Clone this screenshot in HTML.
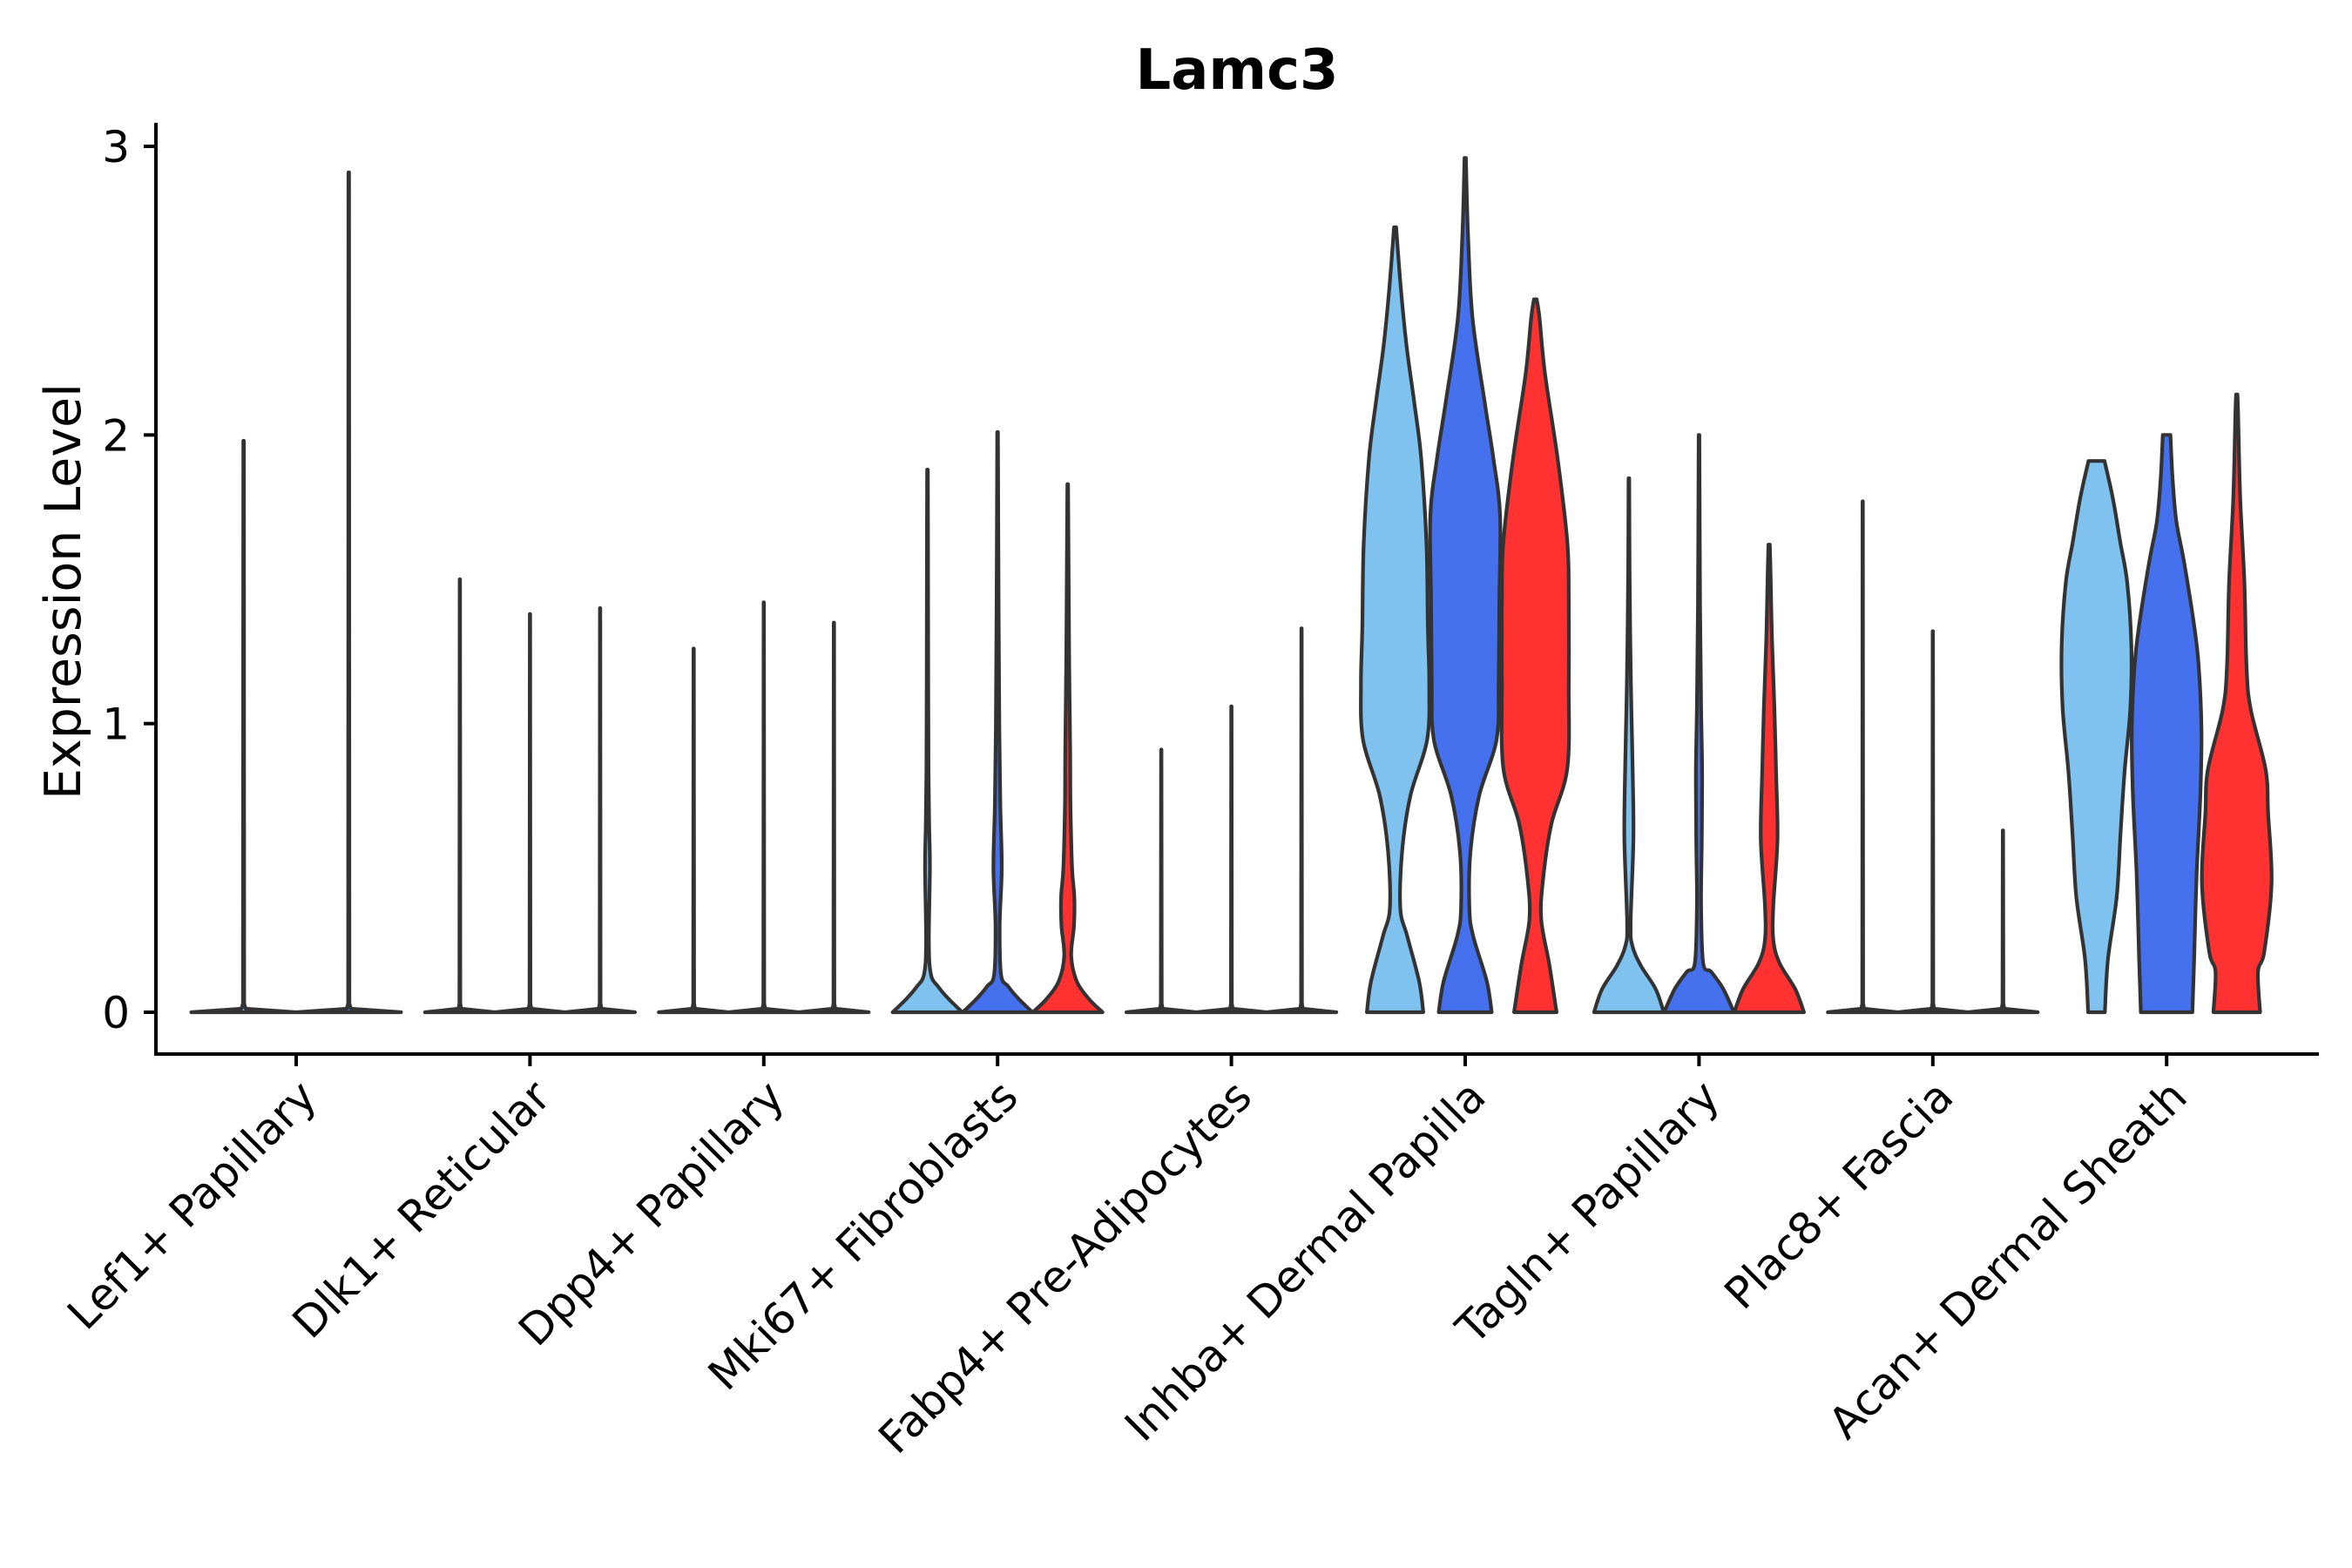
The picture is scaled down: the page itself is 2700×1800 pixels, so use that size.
<!DOCTYPE html>
<html><head><meta charset="utf-8"><title>Lamc3</title>
<style>
html,body{margin:0;padding:0;background:#fff;}
svg{display:block;font-family:"DejaVu Sans","Liberation Sans",sans-serif;}
</style></head>
<body>
<svg id="chart" width="2700" height="1800" viewBox="0 0 2700 1800" xmlns="http://www.w3.org/2000/svg">
<rect x="0" y="0" width="2700" height="1800" fill="#fff"/>
<text x="1420" y="102" text-anchor="middle" font-size="64" font-weight="bold" fill="#000">Lamc3</text>
<text transform="translate(92,679) rotate(-90)" text-anchor="middle" font-size="57" fill="#000">Expression Level</text>
<g id="violins"></g>
<g id="axes"></g>
</svg>
<script>
const categories = ["Lef1+ Papillary","Dlk1+ Reticular","Dpp4+ Papillary","Mki67+ Fibroblasts","Fabp4+ Pre-Adipocytes","Inhba+ Dermal Papilla","Tagln+ Papillary","Plac8+ Fascia","Acan+ Dermal Sheath"];
const yTicks = [0,1,2,3];
const yTickLabels = ["0","1","2","3"];
const seriesColors = ["#7fc1ef","#4570ee","#ff3131"];

// max values of near-zero (flat) violins
const lef1Max = [1.98, 2.91];
const dlk1Max = [1.50, 1.38, 1.40];
const dpp4Max = [1.26, 1.42, 1.35];
const fabp4Max = [0.91, 1.06, 1.33];
const plac8Max = [1.77, 1.32, 0.63];

// density profiles: [value, relative half-width]
const mki67Light = [[0,1],[0.047,0.6],[0.088,0.31],[0.13,0.1],[0.24,0.04],[0.5,0.07],[0.64,0.05],[0.84,0.03],[1.25,0.02],[1.65,0.015],[1.88,0.01]];
const mki67Blue = [[0,1],[0.047,0.6],[0.09,0.3],[0.13,0.1],[0.3,0.06],[0.5,0.12],[0.71,0.08],[0.98,0.05],[1.38,0.03],[2.01,0.01]];
const mki67Red = [[0,1],[0.047,0.6],[0.11,0.25],[0.196,0.1],[0.3,0.18],[0.4,0.19],[0.5,0.125],[0.71,0.08],[0.91,0.07],[1.25,0.04],[1.64,0.02],[1.83,0.01]];
const inhbaLight = [[0,0.81],[0.107,0.69],[0.263,0.35],[0.36,0.15],[0.555,0.2],[0.75,0.44],[0.944,0.92],[1.139,0.98],[1.334,0.94],[1.626,0.9],[1.918,0.75],[2.113,0.55],[2.308,0.33],[2.502,0.17],[2.72,0.03]];
const inhbaBlue = [[0,0.76],[0.107,0.62],[0.263,0.23],[0.36,0.12],[0.555,0.15],[0.75,0.4],[0.944,0.9],[1.139,0.96],[1.431,0.98],[1.723,1.0],[1.918,0.81],[2.113,0.56],[2.405,0.21],[2.697,0.08],[2.96,0.02]];
const inhbaRed = [[0,0.61],[0.166,0.4],[0.321,0.17],[0.458,0.22],[0.652,0.46],[0.847,0.92],[1.139,0.96],[1.431,0.96],[1.626,0.92],[1.918,0.64],[2.21,0.28],[2.405,0.12],[2.47,0.04]];
const taglnLight = [[0,1],[0.08,0.77],[0.16,0.35],[0.23,0.1],[0.31,0.05],[0.6,0.13],[0.83,0.11],[1.06,0.07],[1.29,0.04],[1.53,0.02],[1.85,0.01]];
const taglnBlue = [[0,1],[0.08,0.7],[0.14,0.35],[0.17,0.12],[0.37,0.06],[0.6,0.08],[0.83,0.09],[1.06,0.06],[1.41,0.03],[2.0,0.01]];
const taglnRed = [[0,1],[0.08,0.75],[0.17,0.3],[0.25,0.12],[0.37,0.12],[0.6,0.24],[0.83,0.2],[1.06,0.15],[1.3,0.08],[1.53,0.04],[1.62,0.02]];
const acanLight = [[0,0.24],[0.185,0.33],[0.40,0.58],[0.62,0.69],[0.84,0.81],[1.05,0.97],[1.27,1.0],[1.49,0.88],[1.63,0.68],[1.78,0.47],[1.91,0.23]];
const acanBlue = [[0,0.74],[0.185,0.79],[0.475,0.86],[0.76,0.97],[0.98,1.0],[1.2,0.92],[1.34,0.79],[1.56,0.5],[1.7,0.28],[1.85,0.17],[2.0,0.11]];
const acanRed = [[0,0.67],[0.14,0.61],[0.21,0.79],[0.45,1.0],[0.69,0.9],[0.84,0.83],[1.05,0.4],[1.2,0.28],[1.49,0.22],[1.78,0.1],[2.07,0.04],[2.14,0.02]];

const SVGNS = "http://www.w3.org/2000/svg";
const plot = {left:179, right:2662, top:141, bottom:1210};
const yZero = 1162, yThree = 168;
function yScale(v){ return yZero - v*(yZero-yThree)/3; }
const groupStart = 340, groupStep = 268.4, subStep = 80.5, halfMax = 40;
function xGroup(i){ return groupStart + i*groupStep; }

function flat(max){ return [[0,1],[0.012,0.04],[0.03,0.012],[max,0.006]]; }

// violins: [groupIndex, subOffset, halfWidthScale, colorIndex, profile, isFlat]
const violins = [];
lef1Max.forEach((m,k)=>violins.push([0, k===0?-0.75:0.75, 1.5, k, flat(m), true]));
[[1,dlk1Max],[2,dpp4Max],[4,fabp4Max],[7,plac8Max]].forEach(([g,arr])=>arr.forEach((m,k)=>violins.push([g,k-1,1,k,flat(m),true])));
[[3,[mki67Light,mki67Blue,mki67Red]],[5,[inhbaLight,inhbaBlue,inhbaRed]],[6,[taglnLight,taglnBlue,taglnRed]],[8,[acanLight,acanBlue,acanRed]]].forEach(([g,arr])=>arr.forEach((p,k)=>violins.push([g,k-1,1,k,p,false])));

function smooth(pts, cx, y0, linear){
  let d = "";
  for(let i=0;i<pts.length-1;i++){
    const p1=pts[i], p2=pts[i+1];
    if(linear){ d += ` L${p2[0].toFixed(1)},${p2[1].toFixed(1)}`; continue; }
    const p0=pts[Math.max(0,i-1)], p3=pts[Math.min(pts.length-1,i+2)];
    let c1=[p1[0]+(p2[0]-p0[0])/6, p1[1]+(p2[1]-p0[1])/6];
    let c2=[p2[0]-(p3[0]-p1[0])/6, p2[1]-(p3[1]-p1[1])/6];
    const side = Math.sign(p1[0]-cx || p2[0]-cx);
    [c1,c2].forEach(c=>{
      if(c[1]>y0) c[1]=y0;
      if((c[0]-cx)*side<0) c[0]=cx;
    });
    d += ` C${c1[0].toFixed(1)},${c1[1].toFixed(1)} ${c2[0].toFixed(1)},${c2[1].toFixed(1)} ${p2[0].toFixed(1)},${p2[1].toFixed(1)}`;
  }
  return d;
}

const vg = document.getElementById("violins");
violins.forEach((vd)=>{
  const [g, off, hs, ci, prof, isFlat] = vd;
  const cx = xGroup(g) + off*subStep;
  const hw = halfMax*hs;
  const y0 = yScale(0);
  const right = prof.map(([v,w])=>[cx + w*hw, yScale(v)]);
  const left = prof.slice().reverse().map(([v,w])=>[cx - w*hw, yScale(v)]);
  let d = `M${cx.toFixed(1)},${y0.toFixed(1)} L${right[0][0].toFixed(1)},${right[0][1].toFixed(1)}` + smooth(right, cx, y0, isFlat);
  d += ` L${left[0][0].toFixed(1)},${left[0][1].toFixed(1)}` + smooth(left, cx, y0, isFlat) + " Z";
  const p = document.createElementNS(SVGNS,"path");
  p.setAttribute("d", d);
  p.setAttribute("fill", seriesColors[ci]);
  p.setAttribute("stroke", "#333333");
  p.setAttribute("stroke-width", "4.2");
  p.setAttribute("stroke-linejoin", "round");
  
  
  vg.appendChild(p);
});

const ag = document.getElementById("axes");
function line(x1,y1,x2,y2,name){
  const l = document.createElementNS(SVGNS,"line");
  l.setAttribute("x1",x1); l.setAttribute("y1",y1); l.setAttribute("x2",x2); l.setAttribute("y2",y2);
  l.setAttribute("stroke","#000"); l.setAttribute("stroke-width","4");
  
  
  ag.appendChild(l);
}
line(plot.left, plot.top, plot.left, plot.bottom+2, "y-axis-line");
line(plot.left-2, plot.bottom, plot.right, plot.bottom, "x-axis-line");
yTicks.forEach((t,i)=>{
  const y = yScale(t);
  line(plot.left-14, y, plot.left, y, "y-tick");
  const tx = document.createElementNS(SVGNS,"text");
  tx.setAttribute("x", plot.left-30); tx.setAttribute("y", y+18);
  tx.setAttribute("text-anchor","end"); tx.setAttribute("font-size","50"); tx.setAttribute("fill","#000");
  tx.textContent = yTickLabels[i];
  
  
  ag.appendChild(tx);
});
categories.forEach((c,i)=>{
  const x = xGroup(i);
  line(x, plot.bottom, x, plot.bottom+14, "x-tick");
  const tx = document.createElementNS(SVGNS,"text");
  const bx = x+26, by = 1262;
  tx.setAttribute("transform", `translate(${bx},${by}) rotate(-45)`);
  tx.setAttribute("text-anchor","end"); tx.setAttribute("font-size","50"); tx.setAttribute("fill","#000");
  tx.textContent = c;
  
  
  ag.appendChild(tx);
});
</script>
</body></html>
